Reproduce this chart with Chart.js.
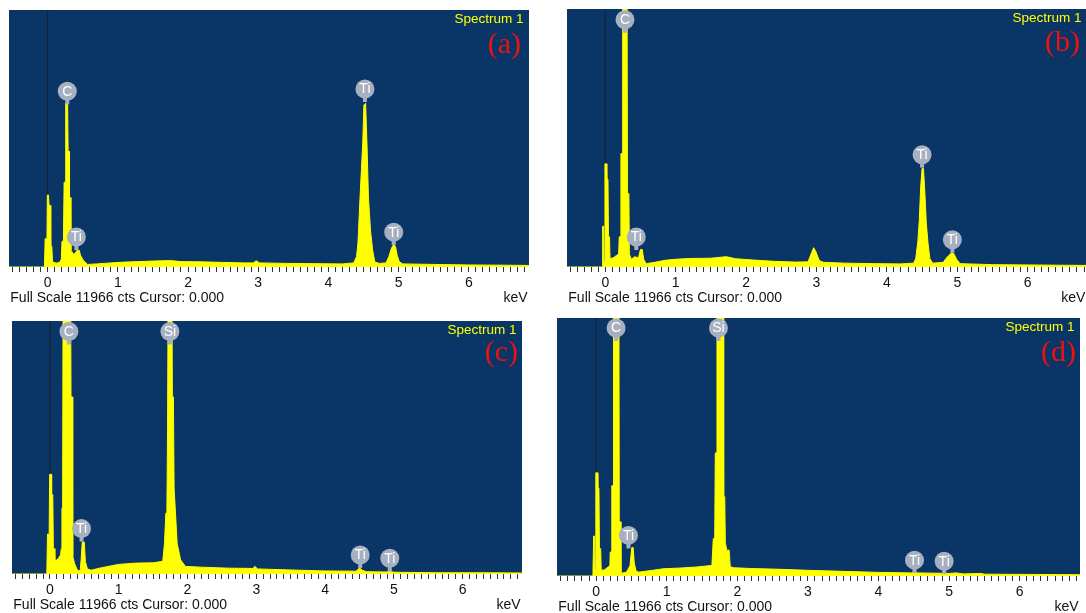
<!DOCTYPE html>
<html>
<head>
<meta charset="utf-8">
<script src="https://cdn.jsdelivr.net/npm/chart.js@4.4.1/dist/chart.umd.min.js"></script>
<style>
  html, body { margin: 0; padding: 0; background: #fff; overflow: hidden; }
  body { width: 1086px; height: 613px; position: relative; }
  canvas { position: absolute; }
</style>
</head>
<body>
<canvas id="chartA"></canvas>
<canvas id="chartB"></canvas>
<canvas id="chartC"></canvas>
<canvas id="chartD"></canvas>
<script>
// full scale of every spectrum (counts)
const fullScale = 11966;
const majorTicks = [0, 1, 2, 3, 4, 5, 6];
const panelLetters = ['(a)', '(b)', '(c)', '(d)'];

// (a) energy in keV / counts
const energyA = [-0.55, -0.045, -0.035, -0.022, -0.012, -0.004, 0.012, 0.02, 0.035, 0.045, 0.06, 0.07, 0.12, 0.17,
  0.195, 0.205, 0.225, 0.235, 0.25, 0.258, 0.285, 0.292, 0.305, 0.312, 0.325, 0.332, 0.37, 0.39, 0.42, 0.45, 0.47,
  0.5, 0.53, 0.57, 0.7, 0.9, 1.1, 1.3, 1.5, 1.75, 1.9, 2.2, 2.5, 2.8, 2.93, 2.97, 3.02, 3.4, 3.8, 4.2, 4.36, 4.4,
  4.42, 4.45, 4.47, 4.49, 4.505, 4.53, 4.55, 4.57, 4.6, 4.63, 4.66, 4.72, 4.82, 4.86, 4.9, 4.93, 4.955, 4.98, 5.01,
  5.06, 5.5, 6.0, 6.5, 6.86];
const countsA = [0, 0, 1316, 1316, 239, 3350, 3350, 2872, 2872, 957, 957, 239, 179, 215,
  359, 1197, 1197, 3949, 3949, 7622, 7622, 5385, 5385, 3231, 3231, 778, 598, 634, 778, 778, 538,
  359, 239, 120, 144, 191, 227, 251, 275, 299, 251, 239, 215, 191, 191, 287, 191, 168, 156, 144, 191, 479,
  1077, 3231, 4547, 5863, 7539, 7622, 5624, 3231, 1675, 778, 239, 168, 191, 479, 897, 1041, 957, 538, 239,
  144, 120, 96, 84, 72];

// (b)
const energyB = [-0.55, -0.045, -0.038, -0.025, -0.018, -0.005, 0.015, 0.022, 0.038, 0.045, 0.06, 0.067, 0.11, 0.16,
  0.19, 0.198, 0.215, 0.222, 0.24, 0.247, 0.308, 0.315, 0.335, 0.342, 0.37, 0.42, 0.47, 0.5, 0.525, 0.545, 0.58,
  0.7, 0.85, 1.0, 1.2, 1.5, 1.72, 1.85, 2.1, 2.4, 2.7, 2.88, 2.93, 2.96, 2.99, 3.04, 3.1, 3.4, 3.8, 4.2, 4.38,
  4.41, 4.44, 4.46, 4.48, 4.5, 4.52, 4.54, 4.56, 4.585, 4.61, 4.65, 4.8, 4.84, 4.88, 4.92, 4.95, 4.99, 5.04,
  5.5, 6.0, 6.86];
const countsB = [0, 0, 1891, 1891, 239, 4786, 4786, 4068, 4068, 1400, 1400, 395, 419, 538,
  598, 1400, 1400, 5265, 5265, 14359, 14359, 3410, 3410, 598, 359, 479, 419, 814, 814, 359, 156,
  215, 311, 359, 395, 407, 479, 383, 323, 263, 227, 239, 658, 897, 718, 299, 215, 179, 156, 144, 179,
  395, 1197, 2154, 3709, 4571, 4571, 3410, 2034, 1077, 395, 179, 215, 395, 538, 658, 622, 359, 156,
  108, 96, 72];

// (c)
const energyC = [-0.55, -0.045, -0.035, -0.022, -0.015, -0.004, 0.018, 0.025, 0.042, 0.05, 0.065, 0.072, 0.12, 0.155,
  0.165, 0.175, 0.185, 0.192, 0.3, 0.307, 0.325, 0.332, 0.36, 0.4, 0.44, 0.455, 0.47, 0.5, 0.515, 0.545, 0.6,
  0.75, 1.0, 1.25, 1.5, 1.64, 1.665, 1.685, 1.7, 1.71, 1.72, 1.772, 1.78, 1.795, 1.805, 1.85, 1.9, 1.97, 2.2,
  2.6, 2.95, 2.98, 3.02, 3.5, 4.0, 4.45, 4.5, 4.54, 4.6, 4.9, 4.95, 5.0, 5.6, 6.3, 6.86];
const countsC = [0, 0, 1891, 1891, 239, 4715, 4715, 3745, 3745, 1197, 1197, 598, 718, 909,
  1197, 3111, 3111, 14359, 14359, 8376, 8376, 838, 479, 179, 144, 718, 1508, 1508, 598, 239, 179,
  299, 455, 515, 527, 598, 1436, 2872, 2872, 6821, 14359, 14359, 8376, 8376, 4068, 1436, 670, 359, 323,
  275, 263, 359, 239, 191, 144, 132, 287, 179, 108, 96, 120, 84, 60, 60, 48];

// (d)
const energyD = [-0.55, -0.045, -0.035, -0.022, -0.015, -0.004, 0.018, 0.025, 0.04, 0.047, 0.065, 0.072, 0.12, 0.17,
  0.195, 0.2, 0.215, 0.222, 0.24, 0.247, 0.322, 0.328, 0.345, 0.352, 0.43, 0.48, 0.505, 0.525, 0.54, 0.565, 0.6,
  0.8, 0.95, 1.2, 1.43, 1.64, 1.66, 1.68, 1.688, 1.705, 1.712, 1.8, 1.807, 1.822, 1.83, 1.85, 1.885, 1.9, 1.95,
  2.2, 2.6, 3.0, 3.5, 4.0, 4.47, 4.51, 4.55, 5.0, 5.1, 5.2, 5.45, 5.5, 6.2, 6.86];
const countsD = [0, 0, 1855, 1855, 239, 4786, 4786, 4068, 4068, 1268, 1268, 263, 287, 419,
  479, 1113, 1113, 4188, 4188, 14359, 14359, 2513, 2513, 120, 179, 479, 1316, 1316, 598, 239, 179,
  263, 335, 371, 419, 491, 1735, 1735, 5708, 5708, 14359, 14359, 3674, 3674, 1556, 1197, 1197, 431, 383,
  347, 311, 263, 215, 168, 144, 191, 144, 120, 144, 96, 120, 84, 72, 60];

// peak markers: element, energy (keV), counts at the tip of the marker stem
const peakNamesA = ['C', 'Ti', 'Ti', 'Ti'];
const peakEnergyA = [0.28, 0.41, 4.52, 4.93];
const peakCountsA = [7575, 790, 7682, 1017];

const peakNamesB = ['C', 'Ti', 'Ti', 'Ti'];
const peakEnergyB = [0.28, 0.44, 4.5, 4.93];
const peakCountsB = [10865, 790, 4607, 658];

const peakNamesC = ['C', 'Si', 'Ti', 'Ti', 'Ti'];
const peakEnergyC = [0.276, 1.744, 0.46, 4.51, 4.94];
const peakCountsC = [10853, 10853, 1532, 287, 132];

const peakNamesD = ['C', 'Si', 'Ti', 'Ti', 'Ti'];
const peakEnergyD = [0.283, 1.733, 0.458, 4.51, 4.93];
const peakCountsD = [10901, 10901, 1280, 132, 84];


const NAVY = '#0a3567';
const YELLOW = '#ffff00';
const SANS = '"Liberation Sans", Arial, sans-serif';
const AXIS_H = 42;

Chart.defaults.font.family = SANS;

// layout of the four panels (plot area in page pixels)
const panels = [
  { id: 'chartA', left: 9,   top: 10,  w: 520, h: 257, min: -0.55, max: 6.857, energy: energyA, counts: countsA,
    names: peakNamesA, pe: peakEnergyA, pc: peakCountsA, letter: panelLetters[0], letterDx: 8, letterDy: 35 },
  { id: 'chartB', left: 567, top: 9,   w: 520, h: 258, min: -0.544, max: 6.842, energy: energyB, counts: countsB,
    names: peakNamesB, pe: peakEnergyB, pc: peakCountsB, letter: panelLetters[1], letterDx: 7, letterDy: 34 },
  { id: 'chartC', left: 12,  top: 321, w: 510, h: 253, min: -0.551, max: 6.862, energy: energyC, counts: countsC,
    names: peakNamesC, pe: peakEnergyC, pc: peakCountsC, letter: panelLetters[2], letterDx: 4, letterDy: 32 },
  { id: 'chartD', left: 557, top: 318, w: 523, h: 258, min: -0.554, max: 6.854, energy: energyD, counts: countsD,
    names: peakNamesD, pe: peakEnergyD, pc: peakCountsD, letter: panelLetters[3], letterDx: 4, letterDy: 35 }
];

const navyBackground = {
  id: 'navyBackground',
  beforeDraw( chart ) {
    const { ctx, chartArea: a } = chart;
    ctx.save();
    ctx.fillStyle = NAVY;
    ctx.fillRect( a.left, a.top, a.right - a.left, a.bottom - a.top );
    ctx.restore();
  }
};

const panelText = {
  id: 'panelText',
  afterDraw( chart, args, opts ) {
    const { ctx, chartArea: a, scales } = chart;
    const p = opts.panel;
    ctx.save();

    // peak markers
    p.names.forEach( ( name, i ) => {
      const x = scales.x.getPixelForValue( p.pe[i] );
      const y = scales.y.getPixelForValue( p.pc[i] );
      const cy = y - 13;
      ctx.fillStyle = '#a7b0c0';
      ctx.fillRect( x - 2, cy + 6, 4, y - cy - 6 );
      ctx.beginPath();
      ctx.arc( x, cy, 9.5, 0, Math.PI * 2 );
      ctx.fill();
      ctx.fillStyle = '#ffffff';
      ctx.font = '14px ' + SANS;
      ctx.textAlign = 'center';
      ctx.textBaseline = 'middle';
      ctx.fillText( name, x, cy + 0.5 );
    });

    ctx.textBaseline = 'middle';
    ctx.fillStyle = YELLOW;
    ctx.font = '13.5px ' + SANS;
    ctx.textAlign = 'right';
    ctx.fillText( 'Spectrum 1', a.right - 5.5, a.top + 9 );

    ctx.fillStyle = '#ee1111';
    ctx.font = '30px "Liberation Serif", "Times New Roman", serif';
    ctx.fillText( p.letter, a.right - p.letterDx, a.top + p.letterDy );

    ctx.fillStyle = '#111111';
    ctx.font = '14px ' + SANS;
    ctx.fillText( 'keV', a.right - 1.5, a.bottom + 31 );
    ctx.textAlign = 'left';
    ctx.fillText( 'Full Scale ' + fullScale + ' cts Cursor: 0.000', a.left + 1.3, a.bottom + 31 );

    ctx.restore();
  }
};

const makeChart = ( p ) => {
  const canvas = document.getElementById( p.id );
  canvas.width = p.w;
  canvas.height = p.h + AXIS_H;
  canvas.style.left = p.left + 'px';
  canvas.style.top = p.top + 'px';

  const points = p.energy.map( ( e, i ) => ( { x: e, y: p.counts[i] } ) );

  return new Chart( canvas.getContext( '2d' ), {
    type: 'line',
    data: {
      datasets: [
        {
          data: points,
          borderColor: YELLOW,
          backgroundColor: YELLOW,
          borderWidth: 1,
          fill: 'origin',
          pointRadius: 0,
          tension: 0,
          order: 0
        },
        {
          // cursor at 0.000 keV
          data: [ { x: 0, y: 0 }, { x: 0, y: fullScale } ],
          borderColor: '#1b1f26',
          borderWidth: 1,
          fill: false,
          pointRadius: 0,
          order: 1
        }
      ]
    },
    options: {
      responsive: false,
      animation: false,
      events: [],
      layout: { padding: 0 },
      plugins: {
        legend: { display: false },
        tooltip: { enabled: false },
        panelText: { panel: p }
      },
      scales: {
        x: {
          type: 'linear',
          min: p.min,
          max: p.max,
          afterBuildTicks: ( scale ) => {
            const ticks = [];
            for ( let i = -5; i <= Math.floor( p.max * 10 ); i++ ) ticks.push( { value: i / 10 } );
            scale.ticks = ticks;
          },
          afterFit: ( scale ) => { scale.height = AXIS_H; },
          border: { display: false },
          grid: { drawOnChartArea: false, drawTicks: true, tickLength: 5, color: '#333333' },
          ticks: {
            autoSkip: false,
            maxRotation: 0,
            padding: 3,
            color: '#111111',
            font: { size: 14 },
            callback: ( v ) => {
              const r = Math.round( v );
              return ( Math.abs( v - r ) < 1e-6 && majorTicks.includes( r ) ) ? String( r ) : '';
            }
          }
        },
        y: { display: false, min: 0, max: fullScale }
      }
    },
    plugins: [ navyBackground, panelText ]
  });
};

panels.forEach( p => makeChart( p ) );
</script>
</body>
</html>
